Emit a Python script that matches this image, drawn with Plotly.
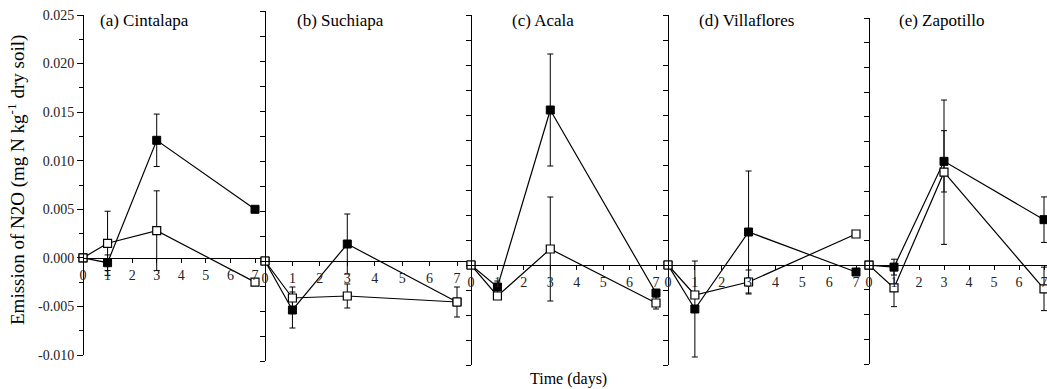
import plotly.graph_objects as go

# ---------------- data ----------------
days = [0, 1, 3, 7]
site_titles = ["(a) Cintalapa", "(b) Suchiapa", "(c) Acala", "(d) Villaflores", "(e) Zapotillo"]

filled_a = [0.0, -0.0005, 0.0121, 0.0050]
filled_a_err = [0.0, 0.0008, 0.0027, 0.0]
open_a = [0.0, 0.0015, 0.0028, -0.0025]
open_a_err = [0.0, 0.0033, 0.0041, 0.0]

filled_b = [0.0, -0.0049, 0.0017, -0.0041]
filled_b_err = [0.0, 0.0018, 0.0030, 0.0]
open_b = [0.0, -0.0037, -0.0035, -0.0041]
open_b_err = [0.0, 0.0011, 0.0012, 0.0015]

filled_c = [0.0, -0.0022, 0.0155, -0.0028]
filled_c_err = [0.0, 0.0006, 0.0056, 0.0]
open_c = [0.0, -0.0031, 0.0016, -0.0038]
open_c_err = [0.0, 0.0, 0.0052, 0.0006]

filled_d = [0.0, -0.0044, 0.0033, -0.0007]
filled_d_err = [0.0, 0.0048, 0.0061, 0.0]
open_d = [0.0, -0.0030, -0.0017, 0.0031]
open_d_err = [0.0, 0.0, 0.0012, 0.0]

filled_e = [0.0, -0.0002, 0.0105, 0.0046]
filled_e_err = [0.0, 0.0008, 0.0031, 0.0023]
open_e = [0.0, -0.0023, 0.0094, -0.0024]
open_e_err = [0.0, 0.0019, 0.0073, 0.0022]

x_tickvals = [0, 1, 2, 3, 4, 5, 6, 7]
y_tickvals = [-0.010, -0.005, 0.0, 0.005, 0.010, 0.015, 0.020, 0.025]
y_ticktext = ["-0.010", "-0.005", "0.000", "0.005", "0.010", "0.015", "0.020", "0.025"]
y_all_ticks = [-0.010, -0.0075, -0.005, -0.0025, 0.0, 0.0025, 0.005, 0.0075,
               0.010, 0.0125, 0.015, 0.0175, 0.020, 0.0225, 0.025]
y_min, y_max = -0.010, 0.025

filled_series = [filled_a, filled_b, filled_c, filled_d, filled_e]
filled_errs = [filled_a_err, filled_b_err, filled_c_err, filled_d_err, filled_e_err]
open_series = [open_a, open_b, open_c, open_d, open_e]
open_errs = [open_a_err, open_b_err, open_c_err, open_d_err, open_e_err]

# ---------------- layout geometry (page pixels) ----------------
W, H = 1047, 389
# (x at day 0, x at day 7, right end, y top (0.025), y zero, y bottom (-0.010), title x)
panels_px = [
    (83, 255, 265, 15, 258, 355, 98),
    (265, 457, 471, 11, 261, 361, 295),
    (471, 656, 668, 15, 265, 365, 510),
    (668, 856, 869, 15, 265, 365, 697),
    (869, 1044, 1047, 18, 265, 364, 897),
]

def xf(px):
    return px / W

def yf(py):
    return 1 - py / H

FONT = "Liberation Serif"
fig = go.Figure()
layout = dict(
    width=W, height=H,
    margin=dict(l=0, r=0, t=0, b=0, autoexpand=False),
    paper_bgcolor="white", plot_bgcolor="white",
    showlegend=False,
    font=dict(family=FONT, color="black", size=14),
)
annotations = []

for i, (x0, x7, xend, ytop, yzero, ybot, tx) in enumerate(panels_px):
    n = "" if i == 0 else str(i + 1)
    xa = "x" + n
    ya = "y" + n
    xr_end = 7 * (xend - x0) / (x7 - x0)
    fig.add_trace(go.Scatter(
        x=days, y=filled_series[i], xaxis=xa, yaxis=ya, mode="lines+markers",
        line=dict(color="black", width=1.2),
        marker=dict(symbol="square", size=8, color="black", line=dict(color="black", width=1)),
        error_y=dict(type="data", array=filled_errs[i], color="black", thickness=1, width=3),
        cliponaxis=False, hoverinfo="skip",
    ))
    fig.add_trace(go.Scatter(
        x=days, y=open_series[i], xaxis=xa, yaxis=ya, mode="lines+markers",
        line=dict(color="black", width=1.2),
        marker=dict(symbol="square", size=8, color="white", line=dict(color="black", width=1.2)),
        error_y=dict(type="data", array=open_errs[i], color="black", thickness=1, width=3),
        cliponaxis=False, hoverinfo="skip",
    ))
    dom_y = [yf(ybot), yf(ytop)]
    zero_pos = dom_y[0] + (0 - y_min) / (y_max - y_min) * (dom_y[1] - dom_y[0])
    layout["xaxis" + n] = dict(
        domain=[xf(x0), min(1.0, xf(xend))], range=[0, xr_end], anchor="free", position=zero_pos,
        showline=True, linecolor="black", linewidth=1.2,
        tickvals=x_tickvals, ticks="outside", ticklen=4, tickcolor="black",
        tickfont=dict(family=FONT, size=14, color="#222"), ticklabeloverflow="allow",
        showgrid=False, zeroline=False, fixedrange=True, automargin=False,
    )
    yax = dict(
        domain=dom_y, range=[y_min, y_max], anchor="free", position=xf(x0),
        showline=True, linecolor="black", linewidth=1.2,
        ticks="outside", tickcolor="black", ticklabeloverflow="allow",
        showgrid=False, zeroline=False, fixedrange=True, automargin=False,
    )
    if i == 0:
        yax.update(tickvals=y_tickvals, ticktext=y_ticktext, ticklen=6,
                   tickfont=dict(family=FONT, size=14, color="#222"),
                   minor=dict(tickvals=y_all_ticks, ticks="outside", ticklen=4, tickcolor="black"))
    else:
        yax.update(tickvals=y_all_ticks, showticklabels=False, ticklen=5)
    layout["yaxis" + n] = yax
    annotations.append(dict(
        text=site_titles[i], x=xf(tx), y=yf(21), xref="paper", yref="paper",
        xanchor="left", yanchor="middle", showarrow=False,
        font=dict(family=FONT, size=17, color="black"),
    ))

annotations.append(dict(
    text="Emission of N2O (mg N kg<sup>-1</sup> dry soil)", x=xf(16), y=yf(180),
    xref="paper", yref="paper", xanchor="center", yanchor="middle",
    textangle=-90, showarrow=False, font=dict(family=FONT, size=19, color="black"),
))
annotations.append(dict(
    text="Time (days)", x=xf(568), y=yf(379), xref="paper", yref="paper",
    xanchor="center", yanchor="middle", showarrow=False,
    font=dict(family=FONT, size=16, color="black"),
))
layout["annotations"] = annotations
fig.update_layout(**layout)
# remove the default 8px body margin so the figure fills the window exactly
fig.write_html("out.html", config={"displayModeBar": False, "staticPlot": True},
               post_script="document.body.style.margin='0';")
